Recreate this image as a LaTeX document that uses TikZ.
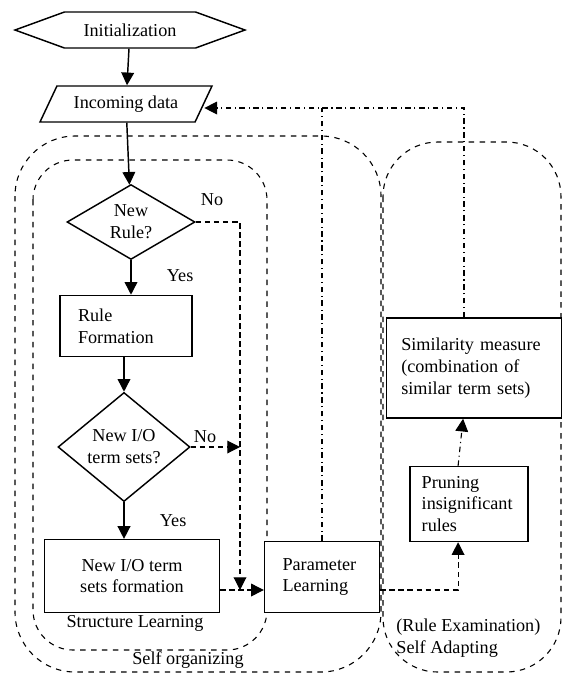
\documentclass[tikz,border=0pt]{standalone}
\usepackage{fontspec}
\setmainfont{Liberation Serif}
\usepackage{tikz}
\usetikzlibrary{arrows.meta,positioning,calc,shapes.geometric,shapes.symbols}
\tikzset{
  startbox/.style={signal, signal to=west and east, signal pointer angle=40, draw, thick, fill=white, inner sep=1pt, minimum width=126.5pt, minimum height=19.8pt},
  iobox/.style={trapezium, trapezium left angle=50, trapezium right angle=130, trapezium stretches body, draw, thick, fill=white, inner sep=1pt, minimum width=94.6pt, minimum height=19.8pt},
  decide/.style={diamond, draw, thick, fill=white, inner sep=0pt, align=center},
  procbox/.style={rectangle, draw, thick, fill=white},
  flow/.style={-{Triangle[length=7pt,width=7pt]}, thick},
  noflow/.style={-{Triangle[length=7pt,width=7pt]}, semithick, densely dashed},
  fback/.style={-{Triangle[length=7pt,width=7pt]}, semithick, dash dot},
  plainfb/.style={semithick, dash dot},
  region/.style={semithick, dashed}
}

\begin{document}
\begin{tikzpicture}[x=0.55pt, y=-0.55pt]
  \useasboundingbox (0,0) rectangle (565,675);

  % Grouping regions
  \draw[region, rounded corners=33pt] (15,136) rectangle (381,672);
  \draw[region, rounded corners=22pt] (33,160) rectangle (267,650);
  \draw[region, rounded corners=30pt] (383,142) rectangle (561,672);

  % Main flow nodes
  \node[startbox] (init) at (130,30)  {Initialization};
  \node[iobox]    (data) at (126,104) {Incoming data};
  \node[decide, minimum width=70.4pt, minimum height=41.2pt, aspect=1.7] (newrule) at (131,222) {New\\Rule?};
  \node[procbox, text width=52.8pt, align=left, inner xsep=9.9pt, minimum height=33.6pt] (ruleform) at (126,326) {Rule\\Formation};
  \node[decide, minimum width=72.6pt, minimum height=60pt, aspect=1.2] (newio) at (124,447) {New I/O\\term sets?};
  \node[procbox, align=center, minimum width=96.2pt, minimum height=40pt] (newioform) at (132,576) {New I/O term\\sets formation};

  % Learning and adapting nodes
  \node[procbox, text width=43.4pt, align=left, inner xsep=9.9pt, minimum height=39pt] (param) at (322,577) {Parameter\\Learning};
  \node[procbox, text width=52pt, align=left, inner xsep=6.5pt, minimum height=41.2pt] (prune) at (469,504) {Pruning\\insignificant\\rules};
  \node[procbox, text width=80pt, align=left, inner xsep=8pt, minimum height=55pt] (simil) at (474,368) {Similarity measure\\(combination of\\similar term sets)};

  % Region labels
  \node (structlbl) at (135,623) {Structure Learning};
  \node (orglbl)    at (188,660) {Self organizing};
  \node[anchor=west, align=left] (adaptlbl) at (390,638) {(Rule Examination)\\Self Adapting};

  % Join points
  \coordinate (nojoin) at (240,590);
  \coordinate (fbtop)  at (464,108);

  % Main flow
  \draw[flow] (init) -- (data);
  \draw[flow] (data) -- (newrule);
  \draw[flow] (newrule.south) -- (newrule.south |- ruleform.north) node[pos=0.45, right=16pt] (yes1) {Yes};
  \draw[flow] (newio.north |- ruleform.south) -- (newio.north);
  \draw[flow] (newio.south) -- (newio.south |- newioform.north) node[pos=0.5, right=16pt] (yes2) {Yes};

  % No branches
  \draw[noflow] (newrule.east) -| (nojoin);
  \node (no1) at (212,200) {No};
  \draw[noflow] (newio.east) -- (newio.east -| nojoin);
  \node (no2) at (205,437) {No};
  \draw[noflow] (newioform.east |- nojoin) -- (param.west |- nojoin);

  % Adapting and feedback
  \draw[noflow] (param.east |- nojoin) -| ([xshift=-6pt]prune.south);
  \draw[fback] ([xshift=-6pt]prune.north) -- ([xshift=-6pt]simil.south);
  \draw[fback] ([xshift=-5.5pt]simil.north) |- (data.east |- fbtop);
  \draw[plainfb] (param.north) -- (param.north |- fbtop);

\end{tikzpicture}
\end{document}
